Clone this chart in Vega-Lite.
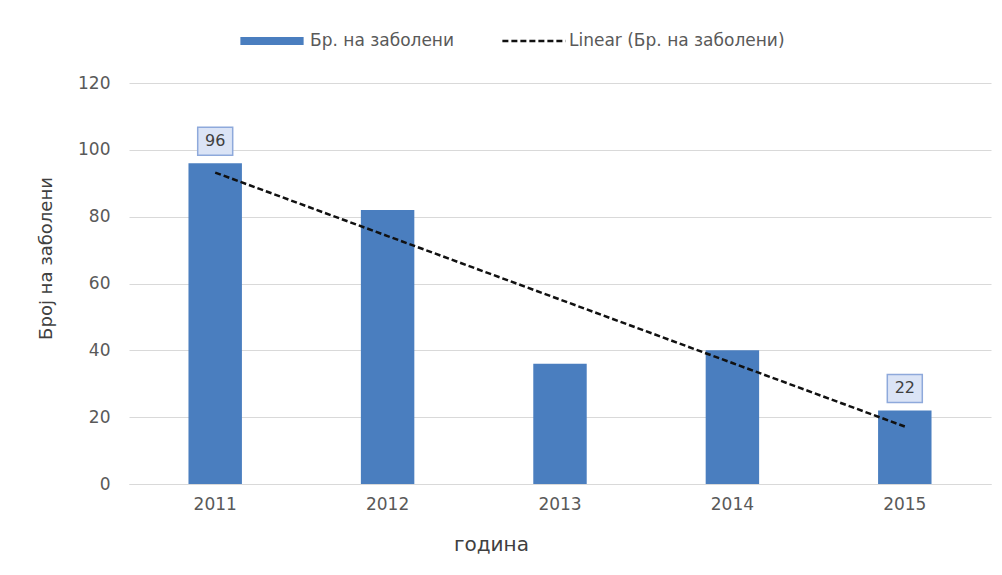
{
  "$schema": "https://vega.github.io/schema/vega-lite/v6.json",
  "width": 862,
  "height": 401,
  "autosize": {"type": "none"},
  "padding": {"left": 129, "top": 83, "right": 11, "bottom": 91},
  "background": "white",
  "config": {
    "font": "DejaVu Sans",
    "view": {"stroke": null},
    "axis": {"labelColor": "#595959", "titleColor": "#404040", "labelFontSize": 17, "titleFontSize": 18, "titleFontWeight": "normal"},
    "legend": {"labelFontSize": 17, "labelColor": "#595959", "labelLimit": 400, "symbolType": "stroke", "symbolSize": 4000}
  },
  "data": {
    "values": [
      {"year": "2011", "value": 96, "trend": 93.2, "series": "Бр. на заболени", "tseries": "Linear (Бр. на заболени)"},
      {"year": "2012", "value": 82, "trend": 74.2, "series": "Бр. на заболени", "tseries": "Linear (Бр. на заболени)"},
      {"year": "2013", "value": 36, "trend": 55.2, "series": "Бр. на заболени", "tseries": "Linear (Бр. на заболени)"},
      {"year": "2014", "value": 40, "trend": 36.2, "series": "Бр. на заболени", "tseries": "Linear (Бр. на заболени)"},
      {"year": "2015", "value": 22, "trend": 17.2, "series": "Бр. на заболени", "tseries": "Linear (Бр. на заболени)"}
    ]
  },
  "encoding": {
    "x": {
      "field": "year", "type": "ordinal", "title": "година",
      "scale": {"paddingInner": 0.69, "paddingOuter": 0.345},
      "axis": {"labelAngle": 0, "ticks": false, "domain": true, "domainColor": "#d9d9d9", "labelPadding": 12, "titlePadding": 22, "titleFontSize": 20, "titleX": 362}
    }
  },
  "layer": [
    {
      "mark": {"type": "bar"},
      "encoding": {
        "y": {
          "field": "value", "type": "quantitative", "title": "Број на заболени",
          "scale": {"domain": [0, 120]},
          "axis": {"values": [0, 20, 40, 60, 80, 100, 120], "ticks": false, "domain": false, "gridColor": "#d9d9d9", "labelPadding": 19, "titlePadding": 22, "titleY": 175}
        },
        "color": {
          "field": "series", "type": "nominal",
          "scale": {"range": ["#4a7ebf"]},
          "legend": {
            "title": null, "orient": "none", "legendX": 107, "legendY": -78,
            "symbolStrokeWidth": 8, "symbolStrokeColor": "#4a7ebf", "labelOffset": 2
          }
        }
      }
    },
    {
      "mark": {"type": "line", "color": "#111111", "strokeWidth": 2.5},
      "encoding": {
        "y": {"field": "trend", "type": "quantitative"},
        "strokeDash": {
          "field": "tseries", "type": "nominal",
          "scale": {"range": [[6, 3]]},
          "legend": {
            "title": null, "orient": "none", "legendX": 372, "legendY": -75,
            "symbolStrokeWidth": 2.5, "symbolStrokeColor": "#111111", "labelOffset": 2
          }
        }
      }
    },
    {
      "transform": [{"filter": "datum.year == '2011' || datum.year == '2015'"}],
      "mark": {"type": "point", "shape": "M-1.25,-1H1.25V1H-1.25Z", "size": 784, "filled": true, "fill": "#dbe4f6", "stroke": "#8ea9db", "strokeWidth": 1.5, "opacity": 1, "yOffset": -22},
      "encoding": {"y": {"field": "value", "type": "quantitative"}}
    },
    {
      "transform": [{"filter": "datum.year == '2011' || datum.year == '2015'"}],
      "mark": {"type": "text", "fontSize": 16, "color": "#404040", "baseline": "middle", "yOffset": -22},
      "encoding": {"y": {"field": "value", "type": "quantitative"}, "text": {"field": "value", "type": "quantitative"}}
    }
  ]
}
